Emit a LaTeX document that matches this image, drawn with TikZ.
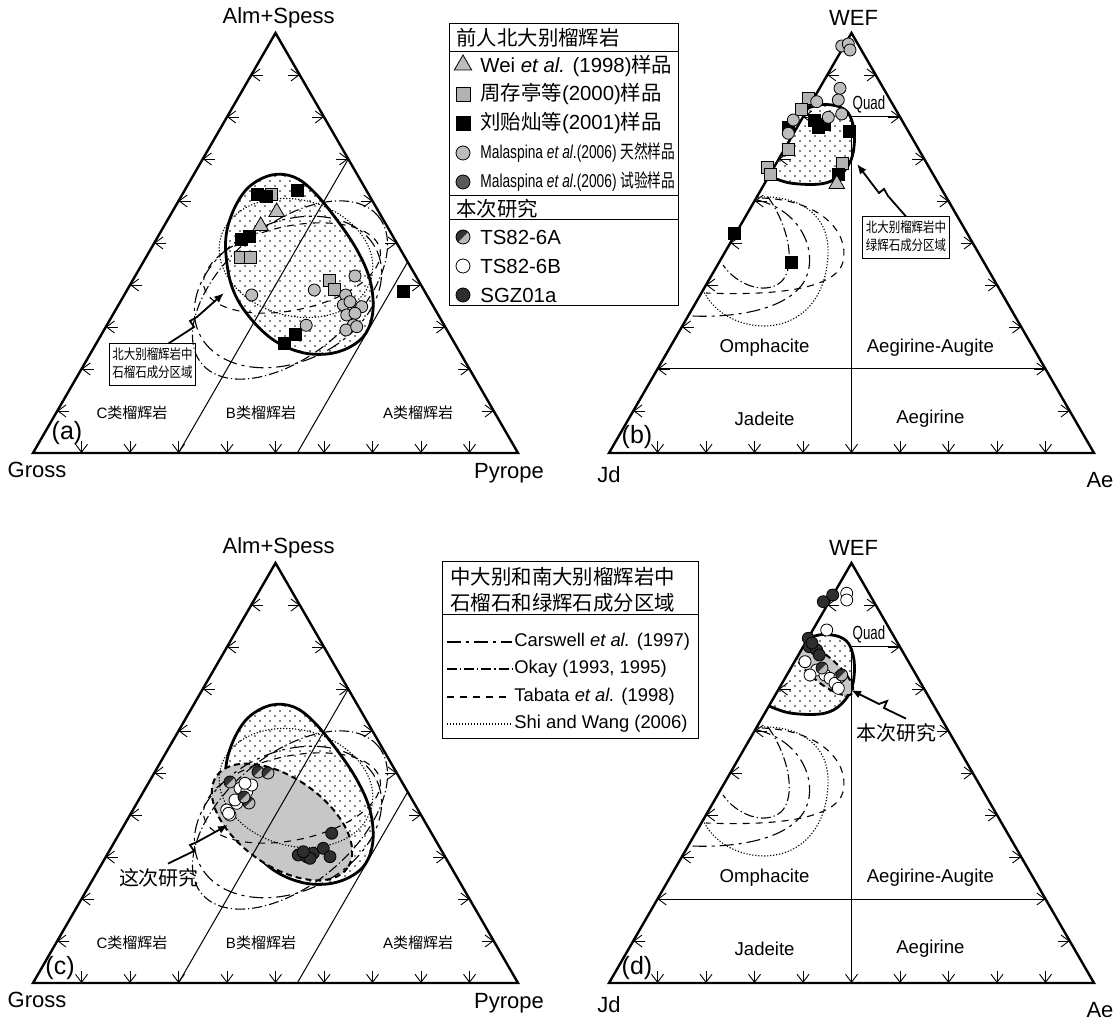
\documentclass[tikz,border=0pt]{standalone}
\usepackage{fontspec}
\setmainfont{Liberation Sans}
\newfontfamily\cjk{Noto Sans CJK SC}
\usepackage{graphicx}
\usetikzlibrary{shapes.geometric,arrows.meta,positioning,patterns,calc}

\definecolor{ptgray}{gray}{0.74}
\definecolor{sqgray}{gray}{0.70}
\definecolor{fldgray}{gray}{0.78}

% sparse stipple for the north Dabie fields
\pgfdeclarepatternformonly{stipple}{\pgfqpoint{-0.5pt}{-0.5pt}}{\pgfqpoint{5pt}{5pt}}{\pgfqpoint{5pt}{5pt}}{%
  \pgfpathcircle{\pgfqpoint{0pt}{0pt}}{0.4pt}%
  \pgfpathcircle{\pgfqpoint{2.5pt}{2.5pt}}{0.4pt}%
  \pgfusepath{fill}}

\newcommand{\squeeze}[2]{\scalebox{#1}[1]{#2}}

%% garnet triangle Gross -- Alm+Spess -- Pyrope (panel a coordinates)
\newcommand{\garnetframe}[1]{%
  \draw[thinln] (178.5,453) -- (348.3,159);
  \draw[thinln] (297.3,453) -- (407.6,262);
  \foreach \k in {1,...,9}{%
    \draw[tmark] ({45+24.25*\k},{453-42*\k}) -- ({33+24.25*\k},{453-42*\k});
    \draw[tmark] ({506-24.25*\k},{453-42*\k}) -- ({518-24.25*\k},{453-42*\k});
    \draw[tmark] ({33+48.5*\k},441) -- ({33+48.5*\k},453);
  }
  \draw[triedge] (33,453) coordinate (#1-gr) -- (275.5,33) coordinate (#1-al)
      -- (518,453) coordinate (#1-py) -- cycle;
  \node[axlbl] (#1-alm)   at (278.6,18) {Alm+Spess};
  \node[axlbl] (#1-gross) at (37,470)   {Gross};
  \node[axlbl] (#1-pyr)   at (509,473)  {Pyrope};
  \node[clslbl] (#1-cc) at (132,413) {C{\cjk 类榴辉岩}};
  \node[clslbl] (#1-cb) at (261,413) {B{\cjk 类榴辉岩}};
  \node[clslbl] (#1-ca) at (418,413) {A{\cjk 类榴辉岩}};
}
\newcommand{\garnetnorth}[1]{%
  \path[#1] plot[smooth cycle,tension=0.6] coordinates {(271.7,175) (250,186)
    (236,205) (227,230) (226,255) (232,287) (247,314) (272,339) (300,352)
    (327,354) (350,347) (366,333) (373,310) (370,280) (357,250) (337,220)
    (314,192) (294,177)};}
\newcommand{\garnetfields}{%
  \draw[okay,rotate around={40:(290,290)}] (290,290) ellipse [x radius=115,y radius=65];
  \draw[carswell,rotate around={25:(288,292)}] (288,292) ellipse [x radius=98,y radius=70];
  \draw[tabata,rotate around={12:(292,268)}] (292,268) ellipse [x radius=90,y radius=42];
  \draw[shiwang,rotate around={-15:(296,258)}] (296,258) ellipse [x radius=78,y radius=58];
}

%% pyroxene triangle Jd -- WEF -- Ae (panel b coordinates)
\newcommand{\cpxframe}[1]{%
  \draw[thinln] (851.5,117) -- (851.5,453);
  \draw[thinln] (851.5,117) -- (900,117);
  \draw[thinln] (657.5,369) -- (1045.5,369);
  \foreach \k in {1,...,9}{%
    \draw[tmark] ({621+24.25*\k},{453-42*\k}) -- ({609+24.25*\k},{453-42*\k});
    \draw[tmark] ({1082-24.25*\k},{453-42*\k}) -- ({1094-24.25*\k},{453-42*\k});
    \draw[tmark] ({609+48.5*\k},441) -- ({609+48.5*\k},453);
  }
  \draw[triedge] (609,453) coordinate (#1-jd) -- (851.5,33) coordinate (#1-wef)
      -- (1094,453) coordinate (#1-ae) -- cycle;
  \node[axlbl] (#1-lwef) at (853.6,18) {WEF};
  \node[axlbl] (#1-ljd)  at (609,475)  {Jd};
  \node[axlbl] (#1-lae)  at (1100,480) {Ae};
  \node[font=\fontsize{9.5}{11}\selectfont] (#1-quad) at (869,104) {\squeeze{0.7}{Quad}};
  \node[minlbl] (#1-omp) at (764.6,348) {Omphacite};
  \node[minlbl] (#1-aeg) at (930.4,348) {Aegirine-Augite};
  \node[minlbl] (#1-jad) at (764.6,419) {Jadeite};
  \node[minlbl] (#1-aegr) at (930.4,419) {Aegirine};
}
\newcommand{\cpxnorthfill}{%
  \fill[pattern=stipple] plot[smooth,tension=0.6] coordinates {(808,108) (823,104.5)
    (840,107) (850,116) (854.5,136) (851,160) (838,177) (820,184) (790,183) (769,176)}
    -- cycle;}
\newcommand{\cpxnorthline}{%
  \draw[fieldline] plot[smooth,tension=0.6] coordinates {(808,108) (823,104.5)
    (840,107) (850,116) (854.5,136) (851,160) (838,177) (820,184) (790,183) (769,176)};}
\newcommand{\cpxfields}{%
  \draw[shiwang] (758,197) .. controls (800,195) and (830,215) .. (828,255)
     .. controls (826,300) and (800,325) .. (765,326) .. controls (735,326) and (712,310) .. (703,290);
  \draw[tabata] (762,198) .. controls (820,200) and (850,232) .. (843,262)
     .. controls (836,288) and (780,296) .. (706,293);
  \draw[carswell] (757,200) .. controls (800,210) and (818,250) .. (806,278)
     .. controls (792,308) and (740,318) .. (692,316);
  \draw[okay] (768,197) .. controls (790,228) and (796,268) .. (781,282)
     .. controls (764,296) and (736,284) .. (723,265);
}

\begin{document}
\begin{tikzpicture}[x=0.5pt,y=-0.5pt,
    triedge/.style={line width=1.2pt,line join=miter},
    thinln/.style={line width=0.5pt},
    tmark/.style={line width=0.45pt,-{Straight Barb[length=4pt,width=6pt]}},
    fieldline/.style={draw,line width=1.4pt},
    carswell/.style={line width=0.55pt,dash pattern=on 7pt off 2.5pt on 1.5pt off 2.5pt},
    okay/.style={line width=0.55pt,dash pattern=on 5pt off 1.5pt on 0.6pt off 1.5pt},
    tabata/.style={line width=0.55pt,dash pattern=on 3.5pt off 3pt},
    shiwang/.style={line width=0.55pt,dash pattern=on 0.6pt off 0.9pt},
    grayfield/.style={fill=fldgray,line width=1pt,dash pattern=on 3pt off 2pt},
    mk/.style={draw=black,line width=0.4pt,inner sep=0pt,minimum size=6pt},
    gtri/.style={mk,regular polygon,regular polygon sides=3,fill=ptgray,minimum size=9pt},
    gsq/.style={mk,rectangle,fill=sqgray},
    bsq/.style={mk,rectangle,fill=black},
    gcir/.style={mk,circle,fill=ptgray},
    dcir/.style={mk,circle,fill=black!65},
    hcir/.style={mk,circle,fill=gray!55,path picture={\fill[black!80]
        (path picture bounding box.north west) -- (path picture bounding box.north east)
        -- (path picture bounding box.south west) -- cycle;}},
    wcir/.style={mk,circle,fill=white},
    kcir/.style={mk,circle,fill=black!82},
    axlbl/.style={font=\fontsize{11}{13}\selectfont},
    minlbl/.style={font=\fontsize{9.3}{11}\selectfont},
    clslbl/.style={font=\fontsize{7.5}{9}\selectfont},
    panlbl/.style={font=\fontsize{12.5}{14}\selectfont},
    legtxt/.style={anchor=west,inner sep=0pt,font=\fontsize{10.2}{12}\selectfont},
    leghead/.style={anchor=west,inner sep=0pt,font=\cjk\fontsize{10.2}{12}\selectfont},
    callbox/.style={draw,line width=0.5pt,inner sep=1.5pt,font=\cjk\fontsize{7}{9}\selectfont},
    calltxt/.style={font=\cjk\fontsize{10}{12}\selectfont},
    callarr/.style={line width=0.9pt,-{Latex[length=5pt,width=4pt]}}
  ]
  \path[fill=white,use as bounding box] (0,0) rectangle (1120,1021);

  %% ── (a) garnet, earlier north Dabie data ─────────────────────────────────
  \garnetnorth{pattern=stipple}
  \garnetfields
  \garnetframe{a}
  \garnetnorth{fieldline}
  \foreach \x/\y [count=\i] in {271/194,240.5/257,250/257,329/280,334/289}
    \node[gsq] (a-gs\i) at (\x,\y) {};
  \foreach \x/\y [count=\i] in {257/194.5,266/196.5,297/190.5,241.5/239.5,249.5/236,
      284/343,295/334,403/291.7}
    \node[bsq] (a-bs\i) at (\x,\y) {};
  \foreach \x/\y [count=\i] in {276.7/212,260.7/226}
    \node[gtri] (a-gt\i) at (\x,\y) {};
  \foreach \x/\y [count=\i] in {251.7/295,314.3/290,306.2/325.3,355/276,345.7/295,
      343.3/305,350/301.7,361.7/306.7,346.7/315,355/313.3,353.3/325,346/330,356.7/326.7}
    \node[gcir] (a-gc\i) at (\x,\y) {};
  \node[panlbl] (a-tag) at (67,433) {(a)};
  \node[callbox] (a-note) at (152.5,365)
      {\squeeze{0.82}{\begin{tabular}{@{}c@{}}北大别榴辉岩中\\石榴石成分区域\end{tabular}}};
  \coordinate (a-tip) at (224,293);
  \draw[callarr] ($(a-note.north)+(16,0)$) -- (194,327) -- (190,321) -- (197,317) -- (a-tip);

  %% ── (b) pyroxene, earlier north Dabie data ───────────────────────────────
  \cpxnorthfill
  \cpxfields
  \cpxframe{b}
  \cpxnorthline
  \foreach \x/\y [count=\i] in {808.3/98.3,801.7/109.3,788.3/149.3,767/167,770/174,842/163}
    \node[gsq] (b-gs\i) at (\x,\y) {};
  \foreach \x/\y [count=\i] in {814/120,824/124,818/127,849.3/131.7,838/174,788/127,
      734/233.3,791.4/262.3}
    \node[bsq] (b-bs\i) at (\x,\y) {};
  \foreach \x/\y [count=\i] in {841.7/46,848.3/44,850/50,840/88.3,838.3/100,816.7/101.7,
      828.3/117.3,841.7/114,793.3/120,788.3/133.3}
    \node[gcir] (b-gc\i) at (\x,\y) {};
  \node[gtri] (b-gt1) at (836.8,184) {};
  \node[panlbl] (b-tag) at (637,437) {(b)};
  \node[callbox] (b-note) at (906,238)
      {\squeeze{0.82}{\begin{tabular}{@{}c@{}}北大别榴辉岩中\\绿辉石成分区域\end{tabular}}};
  \coordinate (b-tip) at (857,164);
  \draw[callarr] (b-note.north) -- (888,196) -- (884,189) -- (879,193) -- (b-tip);

  %% ── (c) garnet, this study ───────────────────────────────────────────────
  \begin{scope}[shift={(0,530)}]
    \garnetnorth{pattern=stipple}
    \garnetnorth{fieldline}
    \draw[grayfield,rotate around={-35:(282,292)}] (282,292) ellipse [x radius=80,y radius=44];
    \garnetfields
    \garnetframe{c}
    \foreach \x/\y [count=\i] in {240/258.3,246.7/261.7,251.7/255,245/253.3,236.7/273.3,
        226.7/280,230/285,235/270,228.6/283.3}
      \node[wcir] (c-wc\i) at (\x,\y) {};
    \foreach \x/\y [count=\i] in {230/252,258/242,268/243,249/273,244/267}
      \node[hcir] (c-hc\i) at (\x,\y) {};
    \foreach \x/\y [count=\i] in {331.7/303.3,298.3/325,306.7/326.7,313.3/323.3,310/328.3,
        323.3/318.3,330/326.7,303.3/321.7}
      \node[kcir] (c-kc\i) at (\x,\y) {};
    \node[panlbl] (c-tag) at (60,438) {(c)};
    \node[calltxt] (c-note) at (159,348) {这次研究};
    \coordinate (c-tip) at (228,295);
    \draw[callarr] ($(c-note.north)+(9,2)$) -- (194,321) -- (190,315) -- (197,312) -- (c-tip);
  \end{scope}

  %% ── (d) pyroxene, this study ─────────────────────────────────────────────
  \begin{scope}[shift={(0,530)}]
    \cpxnorthfill
    \cpxnorthline
    \begin{scope}
      \clip (609,453) -- (851.5,33) -- (1094,453) -- cycle;
      \draw[grayfield,rotate around={-40:(823,139)}] (823,139) ellipse [x radius=38,y radius=13];
    \end{scope}
    \cpxfields
    \cpxframe{d}
    \foreach \x/\y [count=\i] in {846.7/63.3,846.7/70,826.7/100,805/131.7,816.7/140,810/145,
        825/145,830/148.3,840/146.7,835/153.3,838.3/158.3}
      \node[wcir] (d-wc\i) at (\x,\y) {};
    \foreach \x/\y [count=\i] in {841.7/145,822/138}
      \node[hcir] (d-hc\i) at (\x,\y) {};
    \foreach \x/\y [count=\i] in {823.3/71.7,832.7/65,808.3/108.3,809.3/116.7,816.7/120,
        819.3/125,812/113}
      \node[kcir] (d-kc\i) at (\x,\y) {};
    \node[panlbl] (d-tag) at (637,438) {(d)};
    \node[calltxt] (d-note) at (896,203) {本次研究};
    \coordinate (d-tip) at (851,160);
    \draw[callarr] ($(d-note.north)+(10,2)$) -- (884,178) -- (887,171) -- (879,174) -- (d-tip);
  \end{scope}

  %% ── Legend: earlier data and this study ──────────────────────────────────
  \draw[thinln] (449,24) rectangle (678,306);
  \draw[thinln] (449,51.7) -- (678,51.7);
  \draw[thinln] (449,195.7) -- (678,195.7);
  \draw[thinln] (449,220) -- (678,220);
  \node[leghead] (leg-h1) at (456,38) {前人北大别榴辉岩};
  \node[gtri,minimum size=10pt] (leg-s1) at (463,65) {};
  \node[legtxt] (leg-t1) at (480,66) {Wei \textit{et al.} (1998){\cjk 样品}};
  \node[gsq,minimum size=7pt] (leg-s2) at (463,94) {};
  \node[legtxt] (leg-t2) at (480,94) {{\cjk 周存亭等}(2000){\cjk 样品}};
  \node[bsq,minimum size=7pt] (leg-s3) at (463,123) {};
  \node[legtxt] (leg-t3) at (480,123) {{\cjk 刘贻灿等}(2001){\cjk 样品}};
  \node[gcir,minimum size=7pt] (leg-s4) at (463,153) {};
  \node[legtxt,font=\fontsize{9.3}{11}\selectfont] (leg-t4) at (480,153)
      {\squeeze{0.74}{Malaspina \textit{et al}.(2006) {\cjk 天然样品}}};
  \node[dcir,minimum size=7pt] (leg-s5) at (463,182) {};
  \node[legtxt,font=\fontsize{9.3}{11}\selectfont] (leg-t5) at (480,182)
      {\squeeze{0.74}{Malaspina \textit{et al}.(2006) {\cjk 试验样品}}};
  \node[leghead] (leg-h2) at (456,209) {本次研究};
  \node[hcir,minimum size=7pt] (leg-s6) at (463,237) {};
  \node[legtxt] (leg-t6) at (480,237) {TS82-6A};
  \node[wcir,minimum size=7pt] (leg-s7) at (463,266) {};
  \node[legtxt] (leg-t7) at (480,266) {TS82-6B};
  \node[kcir,minimum size=7pt] (leg-s8) at (463,295) {};
  \node[legtxt] (leg-t8) at (480,295) {SGZ01a};

  %% ── Legend: central and south Dabie fields ───────────────────────────────
  \draw[thinln] (442,562) rectangle (698,738);
  \draw[thinln] (442,615) -- (698,615);
  \node[leghead] (leg2-h1) at (450,577) {中大别和南大别榴辉岩中};
  \node[leghead] (leg2-h2) at (450,603) {石榴石和绿辉石成分区域};
  \foreach \sty/\yy/\txt [count=\i] in {carswell/642/{Carswell \textit{et al.} (1997)},
      okay/669/{Okay (1993, 1995)},tabata/697/{Tabata \textit{et al.} (1998)},
      shiwang/724/{Shi and Wang (2006)}}{
    \coordinate (leg2-a\i) at (447,\yy);
    \coordinate (leg2-b\i) at (512,\yy);
    \draw[\sty] (leg2-a\i) -- (leg2-b\i);
    \node[legtxt,font=\fontsize{9.2}{11}\selectfont] (leg2-t\i) at (514,\yy) {\txt};
  }
\end{tikzpicture}
\end{document}
